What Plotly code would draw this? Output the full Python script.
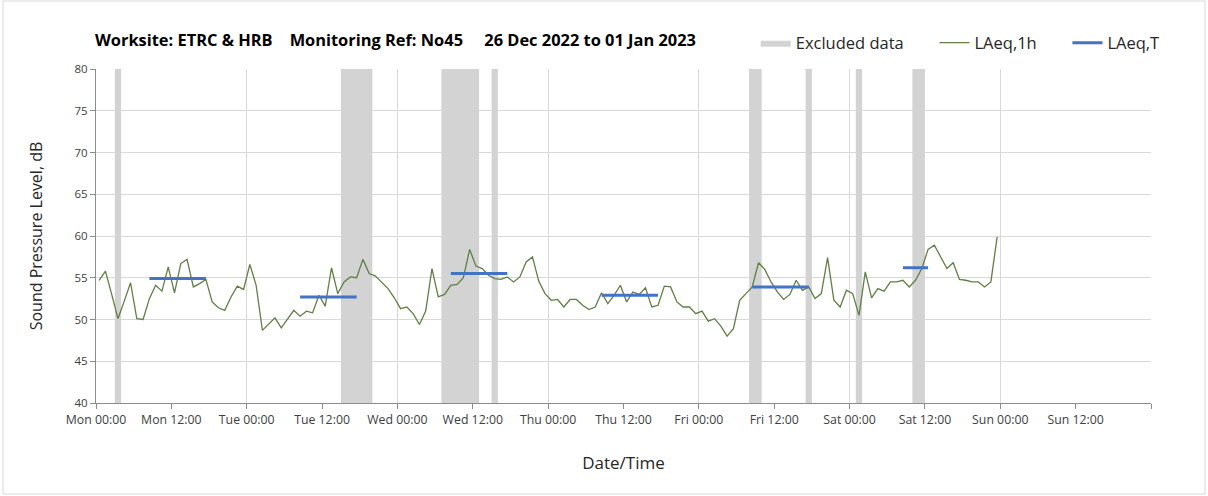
import pandas as pd
import plotly.graph_objects as go

# ---------------- data ----------------
AXIS_START = "2022-12-26 00:00"
AXIS_END = "2023-01-02 00:00"
Y_MIN, Y_MAX = 40, 80

# LAeq,1h hourly values (dB), hours 00..23 of each day
mon = [54.7, 55.8, 53.0, 50.1, 52.2, 54.4, 50.1, 50.0, 52.5, 54.1, 53.4, 56.3,
       53.2, 56.7, 57.2, 53.9, 54.3, 54.8, 52.1, 51.4, 51.1, 52.7, 54.0, 53.6]
tue = [56.6, 54.1, 48.7, 49.4, 50.2, 49.0, 50.1, 51.1, 50.4, 51.0, 50.8, 52.9,
       51.6, 56.2, 53.1, 54.5, 55.1, 55.0, 57.2, 55.5, 55.2, 54.5, 53.7, 52.6]
wed = [51.3, 51.5, 50.7, 49.4, 51.0, 56.1, 52.7, 53.0, 54.1, 54.2, 55.0, 58.4,
       56.4, 56.1, 55.3, 54.9, 54.8, 55.1, 54.5, 55.1, 56.9, 57.5, 54.6, 53.1]
thu = [52.3, 52.4, 51.5, 52.4, 52.4, 51.7, 51.2, 51.5, 53.2, 51.9, 52.9, 54.1,
       52.1, 53.3, 53.0, 53.8, 51.5, 51.7, 54.0, 53.9, 52.1, 51.5, 51.5, 50.7]
fri = [51.0, 49.8, 50.1, 49.2, 48.0, 48.9, 52.3, 53.1, 53.9, 56.8, 56.0, 54.5,
       53.3, 52.4, 53.0, 54.7, 53.5, 53.9, 52.5, 53.1, 57.4, 52.3, 51.5, 53.5]
sat = [53.1, 50.5, 55.7, 52.6, 53.7, 53.4, 54.5, 54.5, 54.7, 53.9, 54.7, 56.1,
       58.4, 58.9, 57.4, 56.1, 56.8, 54.8, 54.7, 54.5, 54.5, 53.9, 54.5, 59.9]
laeq_1h = mon + tue + wed + thu + fri + sat
laeq_1h_time = pd.date_range("2022-12-26 00:30", periods=len(laeq_1h), freq="h")

# LAeq,T (period averages)
lt_start = ["2022-12-26 08:30", "2022-12-27 08:30", "2022-12-28 08:30",
            "2022-12-29 08:30", "2022-12-30 08:30", "2022-12-31 08:30"]
lt_end = ["2022-12-26 17:30", "2022-12-27 17:30", "2022-12-28 17:30",
          "2022-12-29 17:30", "2022-12-30 17:30", "2022-12-31 12:30"]
lt_value = [54.9, 52.7, 55.5, 52.9, 53.9, 56.2]

# Excluded data periods
excl_start = ["2022-12-26 03:00", "2022-12-27 15:00", "2022-12-28 07:00",
              "2022-12-28 15:00", "2022-12-30 08:00", "2022-12-30 17:00",
              "2022-12-31 01:00", "2022-12-31 10:00"]
excl_end = ["2022-12-26 04:00", "2022-12-27 20:00", "2022-12-28 13:00",
            "2022-12-28 16:00", "2022-12-30 10:00", "2022-12-30 18:00",
            "2022-12-31 02:00", "2022-12-31 12:00"]

# Tick labels
tick_times = pd.date_range(AXIS_START, periods=14, freq="12h")
tick_text = ["Mon 00:00", "Mon 12:00", "Tue 00:00", "Tue 12:00", "Wed 00:00",
             "Wed 12:00", "Thu 00:00", "Thu 12:00", "Fri 00:00", "Fri 12:00",
             "Sat 00:00", "Sat 12:00", "Sun 00:00", "Sun 12:00"]
day_times = pd.date_range(AXIS_START, AXIS_END, freq="24h")

# ---------------- build ----------------
FONT = "Open Sans"
nb = "\u00a0"

ex_x, ex_y = [], []
for s, e in zip(excl_start, excl_end):
    ex_x += [s, s, e, e, s, None]
    ex_y += [Y_MIN, Y_MAX, Y_MAX, Y_MIN, Y_MIN, None]

lt_x, lt_y = [], []
for s, e, v in zip(lt_start, lt_end, lt_value):
    lt_x += [s, e, None]
    lt_y += [v, v, None]

fig = go.Figure()
fig.add_trace(go.Scatter(x=ex_x, y=ex_y, fill="toself", mode="lines",
                         line=dict(width=0, color="#d3d3d3"),
                         fillcolor="#d3d3d3", name="Excluded data" + nb * 6,
                         hoverinfo="skip"))
fig.add_trace(go.Scatter(x=laeq_1h_time, y=laeq_1h, mode="lines",
                         line=dict(color="#5f7f45", width=1.3),
                         name="LAeq,1h" + nb * 6))
fig.add_trace(go.Scatter(x=lt_x, y=lt_y, mode="lines",
                         line=dict(color="#4472c4", width=3),
                         name="LAeq,T"))
fig.add_trace(go.Scatter(x=[], y=[], xaxis="x2", showlegend=False))

title = ("Worksite: ETRC & HRB" + nb * 4 + "Monitoring Ref: No45" + nb * 5 +
         "26 Dec 2022 to 01 Jan 2023")

fig.update_layout(
    width=1208, height=496,
    margin=dict(l=96, r=57, t=69, b=93),
    paper_bgcolor="white", plot_bgcolor="white",
    font=dict(family=FONT, color="#404040"),
    title=dict(text="<b>" + title + "</b>", x=95 / 1208, xref="container",
               xanchor="left", y=1 - 40 / 496, yref="container",
               yanchor="middle", font=dict(size=16.4, color="black", family=FONT)),
    legend=dict(orientation="h", x=1.013, xanchor="right", y=1.078,
                yanchor="middle", font=dict(size=16.5, color="#262626"),
                itemwidth=30, bgcolor="rgba(0,0,0,0)"),
    showlegend=True,
    xaxis=dict(type="date", range=[AXIS_START, AXIS_END], tickmode="array",
               tickvals=list(tick_times) + [pd.Timestamp(AXIS_END)],
               ticktext=tick_text + [""], automargin=False,
               showgrid=False, zeroline=False, showline=True,
               linecolor="#8c8c8c", linewidth=1, ticks="outside", ticklen=5,
               tickcolor="#8c8c8c", tickfont=dict(size=12.3, color="#404040"),
               title=dict(text="Date/Time", font=dict(size=17, color="#262626"),
                          standoff=30)),
    xaxis2=dict(type="date", range=[AXIS_START, AXIS_END], overlaying="x",
                tickmode="array", tickvals=list(day_times),
                showticklabels=False, showgrid=True, gridcolor="#d9d9d9",
                gridwidth=1, ticks="", showline=False, zeroline=False),
    yaxis=dict(range=[Y_MIN, Y_MAX], dtick=5, showgrid=True, automargin=False,
               gridcolor="#d9d9d9", gridwidth=1, zeroline=False, showline=True,
               linecolor="#8c8c8c", ticks="outside", ticklen=5,
               tickcolor="#8c8c8c", tickfont=dict(size=11.5, color="#404040"),
               title=dict(text="Sound Pressure Level, dB",
                          font=dict(size=16, color="#262626"), standoff=27)),
    shapes=[dict(type="rect", xref="paper", yref="paper",
                 x0=-93 / 1055, x1=1109 / 1055, y0=-91 / 334, y1=402 / 334,
                 line=dict(color="#d9d9d9", width=1), layer="below")],
)

fig.write_html("out.html", config={"displayModeBar": False},
               post_script="document.body.style.margin='0';")
